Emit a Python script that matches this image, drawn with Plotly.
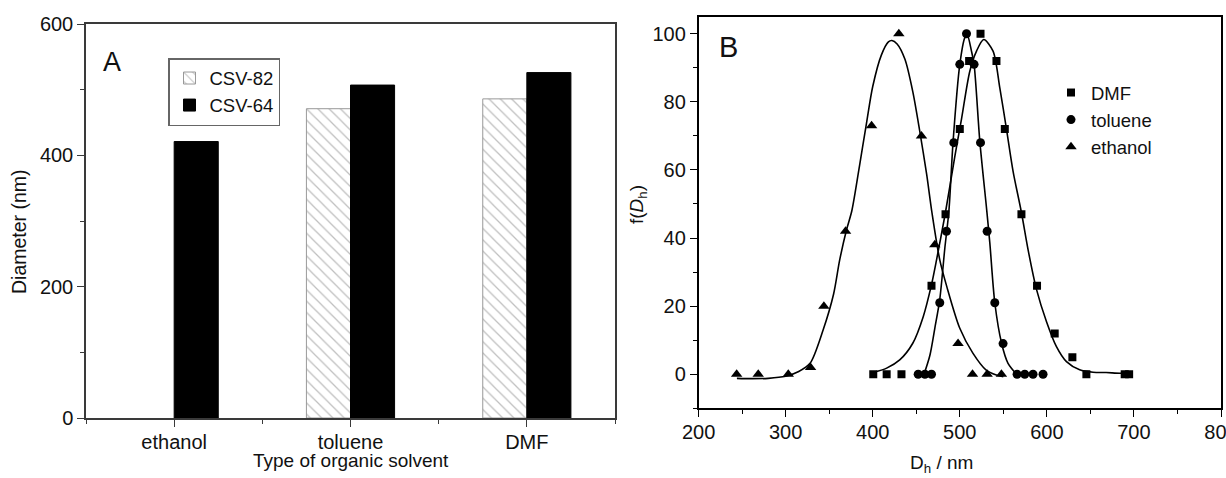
import plotly.graph_objects as go

# ---------------- data ----------------
# Panel A: hydrodynamic diameters
solvents = ["ethanol", "toluene", "DMF"]
solvent_pos = [1, 2, 3]
csv82 = [None, 471, 486]
csv64 = [421, 507, 526]

# Panel B: size distributions (points)
dmf_x = [400.6, 416, 433, 467.5, 483.6, 500, 510.7, 523.8, 542.1, 551.7, 570.8, 588.7, 609, 629.3, 645.4, 689.4, 694.5]
dmf_y = [0, 0, 0, 26, 47, 72, 92, 100, 92, 72, 47, 26, 12, 5, 0, 0, 0]
tol_x = [452.2, 459.9, 467.5, 477, 484.7, 493.1, 500, 507.7, 516.4, 523.8, 531.4, 540.2, 549.7, 565.8, 574.6, 584.1, 595.6]
tol_y = [0, 0, 0, 21, 42, 68, 91, 100, 91, 68, 42, 21, 9, 0, 0, 0, 0]
eth_x = [243.7, 268.5, 303, 328.6, 343.9, 368.8, 398.7, 430, 456, 471.3, 498, 514.6, 531.4, 547.8]
eth_y = [0, 0, 0, 2, 20, 42, 73, 100, 70, 38, 9, 0, 0, 0]

# Panel B: fitted curves
eth_fit_x = [244, 260, 280, 300, 315, 328, 343, 355, 362, 370, 376, 385, 393, 400, 410, 418, 422, 428, 437, 446, 454, 462, 468, 477, 485, 500, 515, 530, 542, 550]
eth_fit_y = [-1.2, -1.3, -1.2, -0.6, 0.8, 3.2, 13, 23.5, 33.5, 42.5, 48, 61.5, 74, 84.5, 93.8, 97.6, 98, 97, 92.5, 83, 71.4, 58.6, 47.5, 33.6, 25.8, 13.5, 6.2, 1.3, -0.2, -0.7]
tol_fit_x = [458, 465.6, 471.3, 477, 482.8, 487.5, 492.3, 500, 505.7, 508.5, 513.4, 516.4, 523, 531, 534.5, 540.2, 548, 555.4, 566]
tol_fit_y = [-0.7, 5.5, 13.5, 22, 37, 48, 68.4, 91, 98.8, 99.6, 94.9, 91, 68.4, 48, 38.5, 21, 9.1, 3.2, -0.2]
dmf_fit_x = [400, 416, 431, 446, 458, 467.5, 473.3, 483.5, 494.3, 502, 511.5, 519.2, 527.5, 538.2, 546, 553.6, 561.2, 570.8, 578.4, 588, 599.5, 611, 622.5, 637.7, 653, 668, 684, 697]
dmf_fit_y = [0.5, 1.8, 4.2, 9.1, 16.9, 26.3, 33.6, 47.5, 64, 75, 89, 94.9, 98.3, 94.9, 84, 72, 59.6, 47.5, 36.6, 25, 15.5, 8.1, 3.7, 1.3, 0.6, 0.5, 0.3, 0.3]

# ---------------- figure ----------------
W, H = 1226, 478
FONT = "Liberation Sans, Arial, sans-serif"


def px_x(p):
    return p / W


def px_y(p):
    return 1 - p / H


fig = go.Figure()

fig.add_trace(go.Bar(
    x=solvent_pos, y=csv82, name="CSV-82", xaxis="x", yaxis="y", legend="legend",
    marker=dict(color="white", line=dict(color="#999999", width=1),
                pattern=dict(shape="\\", fgcolor="#808080", bgcolor="white", size=8, solidity=0.16)),
))
fig.add_trace(go.Bar(
    x=solvent_pos, y=csv64, name="CSV-64", xaxis="x", yaxis="y", legend="legend",
    marker=dict(color="black", line=dict(color="black", width=1)),
))

line_style = dict(color="black", width=1.6, shape="spline", smoothing=0.8)
for fx, fy in [(eth_fit_x, eth_fit_y), (tol_fit_x, tol_fit_y), (dmf_fit_x, dmf_fit_y)]:
    fig.add_trace(go.Scatter(x=fx, y=fy, mode="lines", line=line_style, showlegend=False,
                             xaxis="x2", yaxis="y2", hoverinfo="skip"))

fig.add_trace(go.Scatter(x=dmf_x, y=dmf_y, mode="markers", name="DMF", xaxis="x2", yaxis="y2",
                         legend="legend2", marker=dict(symbol="square", size=8, color="black")))
fig.add_trace(go.Scatter(x=tol_x, y=tol_y, mode="markers", name="toluene", xaxis="x2", yaxis="y2",
                         legend="legend2", marker=dict(symbol="circle", size=9, color="black")))
fig.add_trace(go.Scatter(x=eth_x, y=eth_y, mode="markers", name="ethanol", xaxis="x2", yaxis="y2",
                         legend="legend2", marker=dict(symbol="triangle-up", size=10, color="black")))

axis_common = dict(showline=True, mirror=True, linewidth=1.5, showgrid=False, zeroline=False,
                   ticks="outside", ticklen=7, tickwidth=1.3, automargin=False,
                   ticklabeloverflow="allow",
                   tickfont=dict(family=FONT, size=20, color="#111"))

fig.update_layout(
    width=W, height=H, margin=dict(l=0, r=0, t=0, b=0, pad=0, autoexpand=False),
    paper_bgcolor="white", plot_bgcolor="white",
    font=dict(family=FONT, size=19, color="#111"),
    barmode="group", bargap=0.5, bargroupgap=0,
    xaxis=dict(domain=[px_x(86), px_x(615)], range=[0.5, 3.5], tickmode="array",
               tickvals=solvent_pos, ticktext=solvents, anchor="y", ticklabelstandoff=-2,
               linecolor="#3a3a3a", tickcolor="#3a3a3a",
               minor=dict(tickmode="array", tickvals=[0.5, 1.5, 2.5, 3.5], ticks="outside",
                          ticklen=4, tickcolor="#3a3a3a"),
               **axis_common),
    yaxis=dict(domain=[px_y(418), px_y(24)], range=[0, 600], tickmode="linear", tick0=0, dtick=200,
               anchor="x", linecolor="#3a3a3a", tickcolor="#3a3a3a",
               minor=dict(dtick=100, ticks="outside", ticklen=4, tickcolor="#3a3a3a"),
               **axis_common),
    xaxis2=dict(domain=[px_x(698.6), px_x(1221)], range=[200, 800], tickmode="linear", tick0=200,
                dtick=100, anchor="y2", linecolor="black", tickcolor="black", ticklabelstandoff=-2,
                minor=dict(dtick=50, ticks="outside", ticklen=4, tickcolor="black"),
                **axis_common),
    yaxis2=dict(domain=[px_y(408.3), px_y(16.7)], range=[-10, 105], tickmode="array",
                tickvals=[0, 20, 40, 60, 80, 100], anchor="x2", linecolor="black", tickcolor="black",
                minor=dict(tickmode="array", tickvals=[-10, 10, 30, 50, 70, 90], ticks="outside",
                           ticklen=4, tickcolor="black"),
                **axis_common),
    legend=dict(x=px_x(168), y=px_y(58), xanchor="left", yanchor="top",
                bordercolor="#666", borderwidth=1.5, bgcolor="white",
                font=dict(family=FONT, size=18.5, color="#111"), tracegroupgap=0),
    legend2=dict(x=px_x(1051), y=px_y(74), xanchor="left", yanchor="top",
                 borderwidth=0, bgcolor="rgba(0,0,0,0)",
                 font=dict(family=FONT, size=18.5, color="#111"), tracegroupgap=0),
    showlegend=True,
)

annotations = [
    dict(text="A", x=px_x(112), y=px_y(62), font=dict(size=27)),
    dict(text="B", x=px_x(728), y=px_y(47), font=dict(size=29)),
    dict(text="Diameter (nm)", x=px_x(19), y=px_y(232), textangle=-90, font=dict(size=19.5)),
    dict(text="Type of organic solvent", x=px_x(351), y=px_y(460), font=dict(size=19)),
    dict(text="f(<i>D</i><sub>h</sub>)", x=px_x(638), y=px_y(205), textangle=-90, font=dict(size=19)),
    dict(text="D<sub>h</sub> / nm", x=px_x(941), y=px_y(464), font=dict(size=19)),
]
for a in annotations:
    a.update(xref="paper", yref="paper", showarrow=False, xanchor="center", yanchor="middle")
    a["font"].update(family=FONT, color="#111")
fig.update_layout(annotations=annotations)

fig.write_html("out.html", config={"displayModeBar": False},
               post_script="document.body.style.margin='0';")
